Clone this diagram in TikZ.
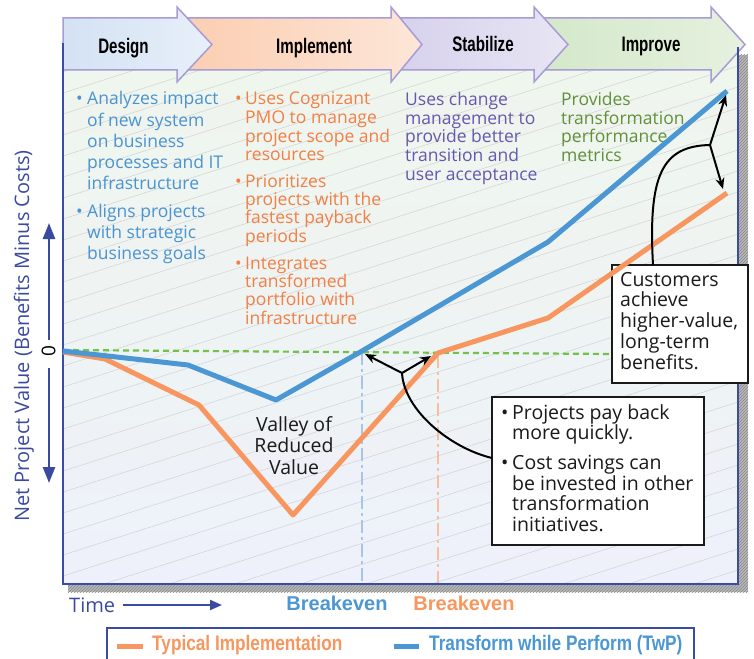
\documentclass[tikz,border=0pt]{standalone}
\usepackage{fontspec}
\setmainfont{Open Sans}
\newfontfamily\hdfont[FakeStretch=0.72]{Liberation Sans}
\newfontfamily\legfont[FakeStretch=0.82]{Liberation Sans}
\newfontfamily\arialfont{Liberation Sans}
\usetikzlibrary{arrows.meta,patterns}

\definecolor{frameblue}{HTML}{3A4DA6}
\definecolor{axisblue}{HTML}{3A4AA0}
\definecolor{twpblue}{HTML}{4A97D3}
\definecolor{typorange}{HTML}{F7975F}
\definecolor{txtblue}{HTML}{4A93D2}
\definecolor{txtorange}{HTML}{F27F45}
\definecolor{txtpurple}{HTML}{6558AE}
\definecolor{txtgreen}{HTML}{62903A}
\definecolor{zerogreen}{HTML}{74C04A}
\definecolor{arrowline}{HTML}{A89CD4}
\definecolor{bgtop}{HTML}{EFF6EC}
\definecolor{bgbot}{HTML}{EEF1FB}
\definecolor{hatch}{HTML}{D2D2D2}
\definecolor{desL}{HTML}{D3E2F4}
\definecolor{desR}{HTML}{E8EFF9}
\definecolor{impL}{HTML}{FBCDB0}
\definecolor{impR}{HTML}{FDE6D8}
\definecolor{stbL}{HTML}{D6D1EC}
\definecolor{stbR}{HTML}{E8E5F4}
\definecolor{imvL}{HTML}{D3E8C9}
\definecolor{imvR}{HTML}{E6F1DF}
\definecolor{vblue}{HTML}{A9C4EA}
\definecolor{vorange}{HTML}{F9BD9F}
\definecolor{boxtxt}{HTML}{1A1A1A}

\tikzset{
  hatchline/.style={draw=hatch, line width=0.5pt},
  hdarrowstyle/.style={draw=arrowline, line width=1.5pt, line join=miter},
  hdtext/.style={font=\hdfont\bfseries\fontsize{21}{24}\selectfont, text=black, inner sep=0pt, anchor=base},
  bluetxt/.style={text=txtblue, font=\fontsize{17.5}{20}\selectfont},
  orangetxt/.style={text=txtorange, font=\fontsize{17.5}{20}\selectfont},
  purpletxt/.style={text=txtpurple, font=\fontsize{17.5}{20}\selectfont},
  greentxt/.style={text=txtgreen, font=\fontsize{17.5}{20}\selectfont},
  boxtext/.style={text=boxtxt, font=\fontsize{19.5}{22}\selectfont},
  calloutbox/.style={draw=boxtxt, line width=1.5pt, fill=white},
  callout/.style={draw=black, line width=2pt},
  calloutarrow/.style={draw=black, line width=2pt, -{Stealth[length=11pt,width=9pt]}},
  curve/.style={line width=5pt, line join=round},
  axisarrow/.style={draw=axisblue, line width=2.5pt, -{Triangle[length=16pt,width=12pt]}},
  legtext/.style={font=\legfont\bfseries\fontsize{21}{24}\selectfont, inner sep=0pt, anchor=base west},
  bktext/.style={font=\arialfont\bfseries\fontsize{20}{24}\selectfont, inner sep=0pt, anchor=base},
}

\newcommand\txtlines[6]{%
  \foreach \t [count=\k from 0] in {#6}{%
    \node[#5, anchor=base west, inner sep=0pt] (#1-\k) at (#2,{#3+\k*#4}) {\t};}}
\newcommand\hdarrow[4]{%
  \path[hdarrowstyle, #4] (#1,18) -- (#2,18) -- (#2,7) -- (#3,44.5) -- (#2,82) -- (#2,70) -- (#1,70) -- cycle;}

\begin{document}
\begin{tikzpicture}[x=1pt,y=-1pt]
\useasboundingbox (0,0) rectangle (754,658);

% shadow
\fill[gray!55] (68,55) rectangle (748,592);
\fill[pattern=north east lines, pattern color=gray!95] (68,55) rectangle (748,592);

% plot background
\fill[top color=bgtop, bottom color=bgbot] (63,43) rectangle (738,584);
\begin{scope}
  \clip (63,43) rectangle (738,584);
  \foreach \i in {0,...,40} \draw[hatchline] (63,{30+\i*21}) -- ++(700,-224);
\end{scope}

% header arrows (right to left so each head covers the next)
\hdarrow{534}{711}{745}{left color=imvL, right color=imvR}
\hdarrow{391}{534}{568}{left color=stbL, right color=stbR}
\hdarrow{177}{391}{422}{left color=impL, right color=impR}
\hdarrow{63}{177}{212}{left color=desL, right color=desR}
\node[hdtext] (hdes) at (123.5,53.3) {Design};
\node[hdtext] (himp) at (314,53.3) {Implement};
\node[hdtext] (hstb) at (483,51.5) {Stabilize};
\node[hdtext] (himv) at (651,51.5) {Improve};

% frame border
\draw[frameblue, line width=2.5pt] (63,43) -- (63,584) -- (738,584) -- (738,47);

% phase texts
\node[bluetxt, anchor=base west, inner sep=0pt] (bb1) at (76,105) {•};
\txtlines{bl}{87}{105}{21}{bluetxt}{Analyzes impact,of new system,on business,processes and IT,infrastructure}
\node[bluetxt, anchor=base west, inner sep=0pt] (bb2) at (76,217) {•};
\txtlines{bm}{87}{217}{21}{bluetxt}{Aligns projects,with strategic,business goals}

\node[orangetxt, anchor=base west, inner sep=0pt] (ob1) at (235,105) {•};
\txtlines{oa}{245}{105}{18.6}{orangetxt}{Uses Cognizant,PMO to manage,project scope and,resources}
\node[orangetxt, anchor=base west, inner sep=0pt] (ob2) at (235,187) {•};
\txtlines{ob}{245}{187}{18.4}{orangetxt}{Prioritizes,projects with the,fastest payback,periods}
\node[orangetxt, anchor=base west, inner sep=0pt] (ob3) at (235,269) {•};
\txtlines{oc}{245}{269}{18.4}{orangetxt}{Integrates,transformed,portfolio with,infrastructure}

\txtlines{pu}{405}{105.5}{18.7}{purpletxt}{Uses change,management to,provide better,transition and,user acceptance}
\txtlines{gr}{561}{105.5}{18.7}{greentxt}{Provides,transformation,performance,metrics}

% zero line and breakeven verticals
\draw[zerogreen, line width=2.2pt, dash pattern=on 6pt off 4pt] (63,350) -- (612,354);
\draw[vblue, line width=2.5pt, dash pattern=on 13pt off 4pt on 3pt off 4pt] (362,352) -- (362,583);
\draw[vorange, line width=2.5pt, dash pattern=on 13pt off 4pt on 3pt off 4pt] (438,355) -- (438,583);

% callout boxes
\path[calloutbox] (612,265) rectangle (748,383);
\txtlines{cu}{620}{286}{20.8}{boxtext}{Customers,achieve,{higher-value,},long-term,benefits.}
\path[calloutbox] (492,397) rectangle (704,545);
\node[boxtext, anchor=base west, inner sep=0pt] (pb1) at (501,419) {•};
\txtlines{pa}{512}{419}{20.5}{boxtext}{Projects pay back,more quickly.}
\node[boxtext, anchor=base west, inner sep=0pt] (pb2) at (501,469.5) {•};
\txtlines{pc}{512}{469.5}{20.5}{boxtext}{Cost savings can,be invested in other,transformation,initiatives.}

% curves
\draw[typorange, curve] (63,352) -- (105,359) -- (199,405) -- (293,515) -- (438,353) -- (548,318) -- (727,193);
\draw[twpblue, curve] (63,351) -- (188,365) -- (276,400) -- (362,351) -- (548,242) -- (727,91);

% valley label
\foreach \t/\yy [count=\k] in {Valley of/431, Reduced/452.5, Value/474}
  \node[boxtext, anchor=base, inner sep=0pt] (valley\k) at (294,\yy) {\t};

% callout connectors
\coordinate (c2start) at (492,458);
\coordinate (j1) at (402,373);
\coordinate (blueBE) at (365,354);
\coordinate (orangeBE) at (431,356);
\draw[callout] (c2start) .. controls (450,448) and (404,410) .. (j1);
\draw[calloutarrow] (j1) -- (blueBE);
\draw[calloutarrow] (j1) -- (orangeBE);

\coordinate (c1start) at (653,265);
\coordinate (j2) at (710,145);
\coordinate (blueEnd) at (726,95);
\coordinate (orangeEnd) at (723,189);
\draw[callout] (c1start) .. controls (648,175) and (662,146) .. (j2);
\draw[calloutarrow] (j2) -- (blueEnd);
\draw[calloutarrow] (j2) -- (orangeEnd);

% y axis
\node[rotate=90, text=axisblue, font=\fontsize{20}{22}\selectfont] (ylab) at (24,336) {Net Project Value (Benefits Minus Costs)};
\node[rotate=90, text=black, font=\fontsize{19}{20}\selectfont, inner sep=0pt] (zero) at (48.5,351) {0};
\coordinate (upS) at (49,340);
\coordinate (upE) at (49,223);
\coordinate (dnS) at (49,368);
\coordinate (dnE) at (49,483);
\draw[axisarrow] (upS) -- (upE);
\draw[axisarrow] (dnS) -- (dnE);

% time axis
\node[text=axisblue, font=\fontsize{20}{24}\selectfont, anchor=base west, inner sep=0pt] (time) at (69,612) {Time};
\coordinate (tS) at (123,605);
\coordinate (tE) at (222,605);
\draw[draw=axisblue, line width=2pt, -{Triangle[length=12pt,width=10pt]}] (tS) -- (tE);

% breakeven labels
\node[bktext, text=twpblue] (bkb) at (337,610.5) {Breakeven};
\node[bktext, text=typorange] (bko) at (464,610.5) {Breakeven};

% legend
\path[draw=frameblue, line width=2pt, fill=white] (107,628) rectangle (694,672);
\draw[typorange, line width=5pt] (117,646) -- (143,646);
\node[legtext, text=typorange] (leg1) at (152,650) {Typical Implementation};
\draw[twpblue, line width=5pt] (394,646) -- (419,646);
\node[legtext, text=twpblue] (leg2) at (429,650) {Transform while Perform (TwP)};
\end{tikzpicture}
\end{document}
